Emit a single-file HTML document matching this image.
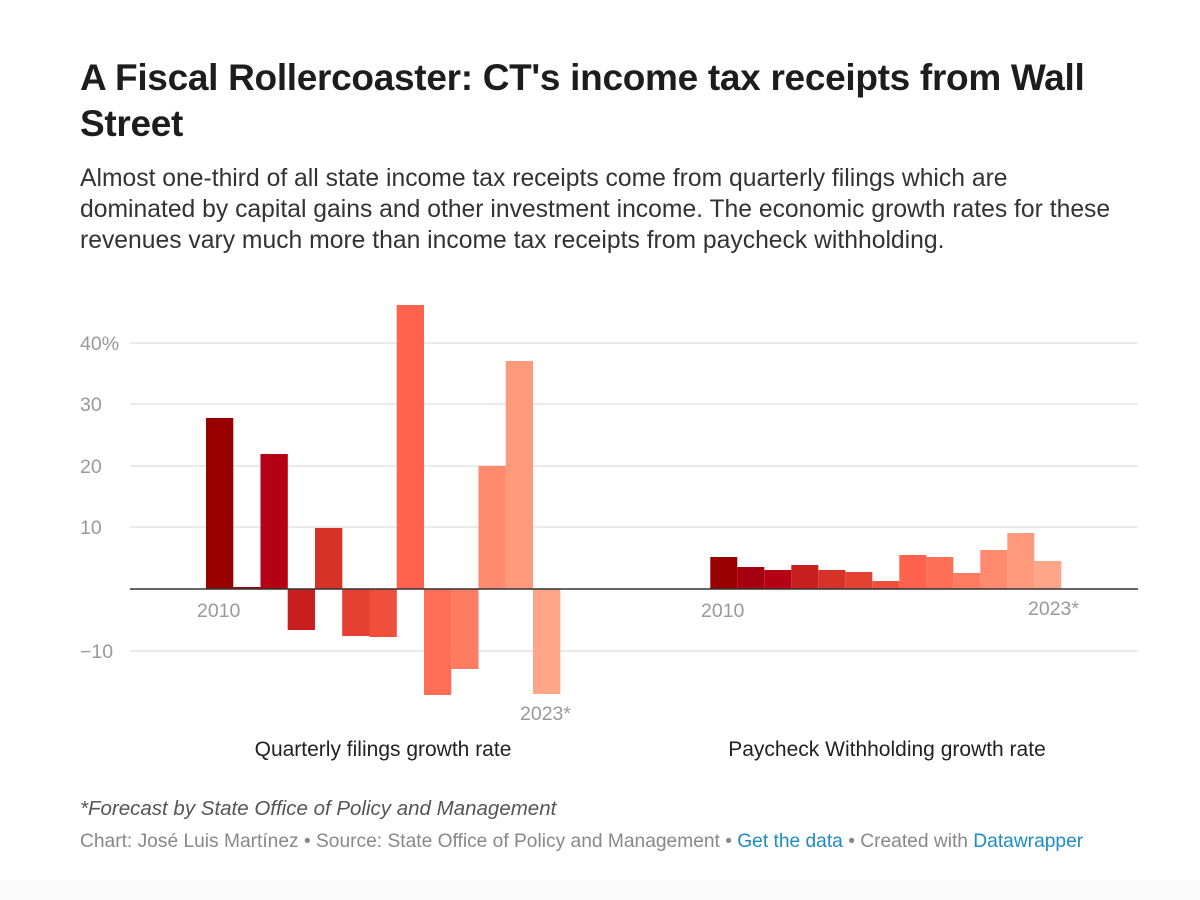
<!DOCTYPE html>
<html><head><meta charset="utf-8"><style>
body{margin:0;width:1200px;height:900px;background:#fff;font-family:"Liberation Sans",Arial,sans-serif;position:relative;overflow:hidden}
h1{position:absolute;left:80px;top:55px;margin:0;width:1060px;font-size:37px;line-height:46px;font-weight:bold;color:#1d1d1d;letter-spacing:-0.3px}
.sub{position:absolute;left:80px;top:163px;width:1100px;font-size:24.7px;line-height:31px;color:#333;white-space:nowrap}
.note{position:absolute;left:80px;top:797px;font-size:20.5px;font-style:italic;color:#555}
.src{position:absolute;left:80px;top:831px;font-size:19.2px;color:#888}
.src a{color:#1d8bc4;text-decoration:none}
.foot{position:absolute;left:0;top:880px;width:1200px;height:20px;background:#fafafa}
</style></head><body>
<h1>A Fiscal Rollercoaster: CT's income tax receipts from Wall Street</h1>
<div class="sub">Almost one-third of all state income tax receipts come from quarterly filings which are<br>dominated by capital gains and other investment income. The economic growth rates for these<br>revenues vary much more than income tax receipts from paycheck withholding.</div>
<svg width="1200" height="900" style="position:absolute;left:0;top:0" font-family="Liberation Sans,Arial,sans-serif">
<g stroke="#e3e3e3" stroke-width="1.5">
<line x1="130" x2="1138" y1="343" y2="343"/><line x1="130" x2="1138" y1="404" y2="404"/><line x1="130" x2="1138" y1="466" y2="466"/><line x1="130" x2="1138" y1="527" y2="527"/><line x1="130" x2="1138" y1="651" y2="651"/>
</g>
<g fill="#999" font-size="19.5">
<text x="80" y="350">40%</text><text x="80" y="411">30</text><text x="80" y="473">20</text><text x="80" y="534">10</text><text x="80" y="658">−10</text>
<text x="197" y="617">2010</text><text x="520" y="720">2023*</text>
<text x="701" y="617">2010</text><text x="1028" y="615">2023*</text>
</g>
<g>
<rect x="206" y="418" width="27.3" height="171" fill="#990000"/>
<rect x="233.2" y="587" width="27.3" height="2" fill="#a50010"/>
<rect x="260.5" y="454" width="27.3" height="135" fill="#b50016"/>
<rect x="287.7" y="589" width="27.3" height="41" fill="#c81e1e"/>
<rect x="315" y="528" width="27.3" height="61" fill="#d63228"/>
<rect x="342.2" y="589" width="27.3" height="47" fill="#e54132"/>
<rect x="369.5" y="589" width="27.3" height="48" fill="#f04f3c"/>
<rect x="396.7" y="305" width="27.3" height="284" fill="#ff624d"/>
<rect x="424" y="589" width="27.3" height="106" fill="#ff6e56"/>
<rect x="451.2" y="589" width="27.3" height="80" fill="#ff7b62"/>
<rect x="478.5" y="466" width="27.3" height="123" fill="#ff8a6e"/>
<rect x="505.7" y="361" width="27.3" height="228" fill="#ff997c"/>
<rect x="533" y="589" width="27.3" height="105" fill="#ffa588"/>
</g>
<g>
<rect x="710.3" y="557" width="27" height="32" fill="#990000"/>
<rect x="737.3" y="567" width="27" height="22" fill="#a50010"/>
<rect x="764.3" y="570" width="27" height="19" fill="#b50016"/>
<rect x="791.3" y="565" width="27" height="24" fill="#c81e1e"/>
<rect x="818.3" y="570" width="27" height="19" fill="#d63228"/>
<rect x="845.3" y="572" width="27" height="17" fill="#e54132"/>
<rect x="872.3" y="581" width="27" height="8" fill="#f04f3c"/>
<rect x="899.3" y="555" width="27" height="34" fill="#ff624d"/>
<rect x="926.3" y="557" width="27" height="32" fill="#ff6e56"/>
<rect x="953.3" y="573" width="27" height="16" fill="#ff7b62"/>
<rect x="980.3" y="550" width="27" height="39" fill="#ff8a6e"/>
<rect x="1007.3" y="533" width="27" height="56" fill="#ff997c"/>
<rect x="1034.3" y="561" width="27" height="28" fill="#ffa588"/>
</g>
<line x1="130" x2="1138" y1="589" y2="589" stroke="#333" stroke-width="1.5"/>
<g fill="#222" font-size="21">
<text x="383" y="756" text-anchor="middle">Quarterly filings growth rate</text>
<text x="887" y="756" text-anchor="middle">Paycheck Withholding growth rate</text>
</g>
</svg>
<div class="note">*Forecast by State Office of Policy and Management</div>
<div class="src">Chart: José Luis Martínez • Source: State Office of Policy and Management • <a>Get the data</a> • Created with <a>Datawrapper</a></div>
<div class="foot"></div>
</body></html>
